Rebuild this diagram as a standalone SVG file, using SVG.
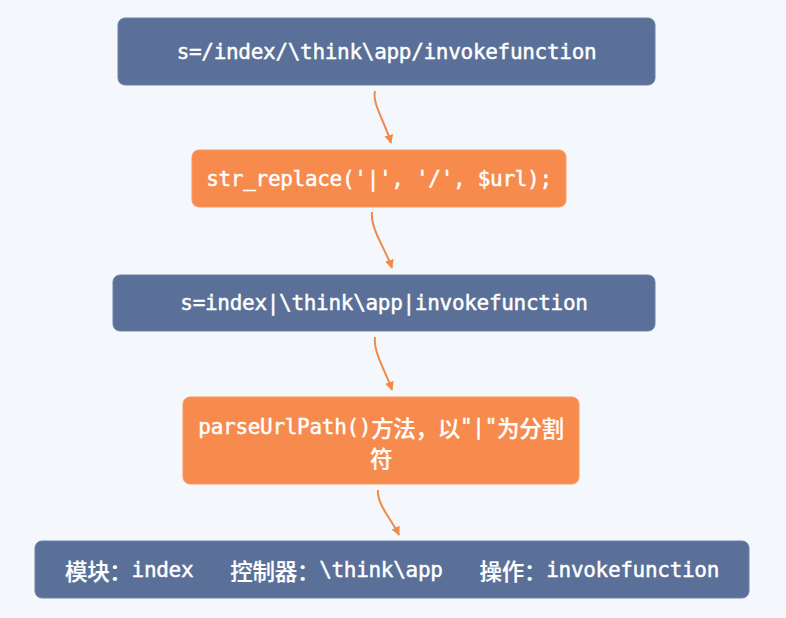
<svg xmlns="http://www.w3.org/2000/svg" width="786" height="618" viewBox="0 0 786 618">
<style>
.bg{fill:#f4f8fc}
.blue{fill:#5a7098;stroke:#6d81a6;stroke-width:1}
.orange{fill:#f78b4e;stroke:#f99a63;stroke-width:1}
.t{font-family:"DejaVu Sans Mono","Noto Sans CJK SC",monospace;font-size:21px;letter-spacing:-0.3px;fill:#ffffff;stroke:#ffffff;stroke-width:0.45px;text-anchor:middle;dominant-baseline:central}
.c{font-family:"Noto Sans CJK SC",sans-serif;font-size:22.5px;font-weight:500;stroke-width:0.2px}
.edge{fill:none;stroke:#f08a4b;stroke-width:2}
</style>
<defs>
<marker id="ah" viewBox="0 0 10 10" refX="9" refY="5" markerWidth="9" markerHeight="9" orient="auto" markerUnits="userSpaceOnUse">
<path d="M0,0 L10,5 L0,10 z" fill="#f08a4b"/>
</marker>
</defs>
<rect class="bg" x="0" y="0" width="786" height="618"/>
<g id="connectors">
<path class="edge" d="M375,91 C372,104 385,122 391,143" marker-end="url(#ah)"/>
<path class="edge" d="M372,212 C370,228 385,248 392,268" marker-end="url(#ah)"/>
<path class="edge" d="M375,337 C373,352 386,372 392,390" marker-end="url(#ah)"/>
<path class="edge" d="M378,490 C377,505 392,520 399,535" marker-end="url(#ah)"/>
</g>
<g id="node1">
<rect class="blue" x="118" y="18" width="537" height="67" rx="7"/>
<text class="t" x="386.5" y="52">s=/index/\think\app/invokefunction</text>
</g>
<g id="node2">
<rect class="orange" x="192" y="150" width="374" height="57" rx="7"/>
<text class="t" x="379" y="179">str_replace('|', '/', $url);</text>
</g>
<g id="node3">
<rect class="blue" x="113" y="275" width="542" height="56" rx="7"/>
<text class="t" x="384" y="303">s=index|\think\app|invokefunction</text>
</g>
<g id="node4">
<rect class="orange" x="183" y="397" width="396" height="87" rx="7"/>
<text class="t" x="381" y="427">parseUrlPath()<tspan class="c">方法，以</tspan>"|"<tspan class="c">为分割</tspan></text>
<text class="t" x="381" y="457"><tspan class="c">符</tspan></text>
</g>
<g id="node5">
<rect class="blue" x="35" y="541" width="714" height="57" rx="7"/>
<text class="t" x="392" y="570" xml:space="preserve"><tspan class="c">模块：</tspan>index   <tspan class="c">控制器：</tspan>\think\app   <tspan class="c">操作：</tspan>invokefunction</text>
</g>
</svg>
